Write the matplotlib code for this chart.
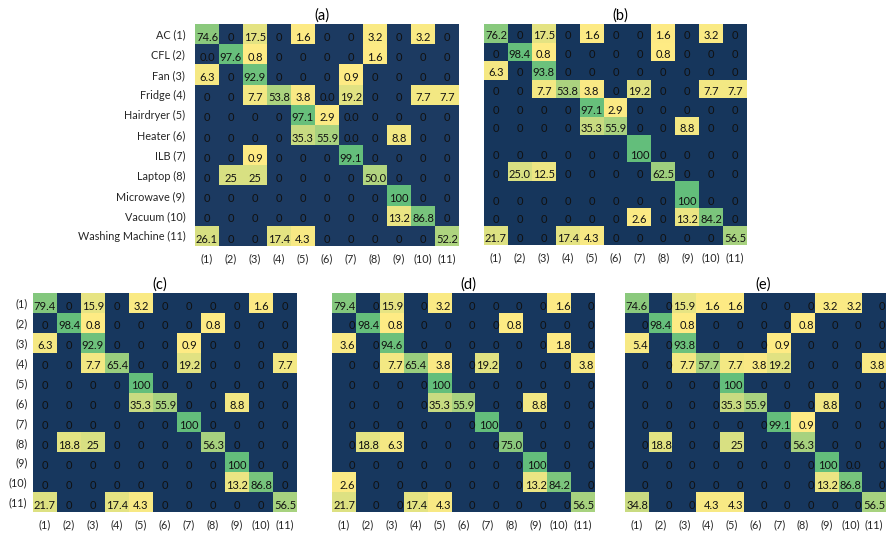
import numpy as np
import matplotlib
matplotlib.use('Agg')
import matplotlib.pyplot as plt
from matplotlib.colors import LinearSegmentedColormap

# 5개의 혼동행렬 (a)~(e), 셀에 적힌 문자열 그대로 저장
APPLIANCES = ['AC (1)', 'CFL (2)', 'Fan (3)', 'Fridge (4)', 'Hairdryer (5)', 'Heater (6)',
              'ILB (7)', 'Laptop (8)', 'Microwave (9)', 'Vacuum (10)', 'Washing Machine (11)']
CLASS_TICKS = ['(1)', '(2)', '(3)', '(4)', '(5)', '(6)', '(7)', '(8)', '(9)', '(10)', '(11)']

A_CELLS = [
    ['74.6', '0', '17.5', '0', '1.6', '0', '0', '3.2', '0', '3.2', '0'],
    ['0.0', '97.6', '0.8', '0', '0', '0', '0', '1.6', '0', '0', '0'],
    ['6.3', '0', '92.9', '0', '0', '0', '0.9', '0', '0', '0', '0'],
    ['0', '0', '7.7', '53.8', '3.8', '0.0', '19.2', '0', '0', '7.7', '7.7'],
    ['0', '0', '0', '0', '97.1', '2.9', '0.0', '0', '0', '0', '0'],
    ['0', '0', '0', '0', '35.3', '55.9', '0.0', '0', '8.8', '0', '0'],
    ['0', '0', '0.9', '0', '0', '0', '99.1', '0', '0', '0', '0'],
    ['0', '25', '25', '0', '0', '0', '0', '50.0', '0', '0', '0'],
    ['0', '0', '0', '0', '0', '0', '0', '0', '100', '0', '0'],
    ['0', '0', '0', '0', '0', '0', '0', '0', '13.2', '86.8', '0'],
    ['26.1', '0', '0', '17.4', '4.3', '0', '0', '0', '0', '0', '52.2'],
]

B_CELLS = [
    ['76.2', '0', '17.5', '0', '1.6', '0', '0', '1.6', '0', '3.2', '0'],
    ['0', '98.4', '0.8', '0', '0', '0', '0', '0.8', '0', '0', '0'],
    ['6.3', '0', '93.8', '0', '0', '0', '0', '0', '0', '0', '0'],
    ['0', '0', '7.7', '53.8', '3.8', '0', '19.2', '0', '0', '7.7', '7.7'],
    ['0', '0', '0', '0', '97.1', '2.9', '0', '0', '0', '0', '0'],
    ['0', '0', '0', '0', '35.3', '55.9', '0', '0', '8.8', '0', '0'],
    ['0', '0', '0', '0', '0', '0', '100', '0', '0', '0', '0'],
    ['0', '25.0', '12.5', '0', '0', '0', '0', '62.5', '0', '0', '0'],
    ['0', '0', '0', '0', '0', '0', '0', '0', '100', '0', '0'],
    ['0', '0', '0', '0', '0', '0', '2.6', '0', '13.2', '84.2', '0'],
    ['21.7', '0', '0', '17.4', '4.3', '0', '0', '0', '0', '0', '56.5'],
]

C_CELLS = [
    ['79.4', '0', '15.9', '0', '3.2', '0', '0', '0', '0', '1.6', '0'],
    ['0', '98.4', '0.8', '0', '0', '0', '0', '0.8', '0', '0', '0'],
    ['6.3', '0', '92.9', '0', '0', '0', '0.9', '0', '0', '0', '0'],
    ['0', '0', '7.7', '65.4', '0', '0', '19.2', '0', '0', '0', '7.7'],
    ['0', '0', '0', '0', '100', '0', '0', '0', '0', '0', '0'],
    ['0', '0', '0', '0', '35.3', '55.9', '0', '0', '8.8', '0', '0'],
    ['0', '0', '0', '0', '0', '0', '100', '0', '0', '0', '0'],
    ['0', '18.8', '25', '0', '0', '0', '0', '56.3', '0', '0', '0'],
    ['0', '0', '0', '0', '0', '0', '0', '0', '100', '0', '0'],
    ['0', '0', '0', '0', '0', '0', '0', '0', '13.2', '86.8', '0'],
    ['21.7', '0', '0', '17.4', '4.3', '0', '0', '0', '0', '0', '56.5'],
]

D_CELLS = [
    ['79.4', '0', '15.9', '0', '3.2', '0', '0', '0', '0', '1.6', '0'],
    ['0', '98.4', '0.8', '0', '0', '0', '0', '0.8', '0', '0', '0'],
    ['3.6', '0', '94.6', '0', '0', '0', '0', '0', '0', '1.8', '0'],
    ['0', '0', '7.7', '65.4', '3.8', '0', '19.2', '0', '0', '0', '3.8'],
    ['0', '0', '0', '0', '100', '0', '0', '0', '0', '0', '0'],
    ['0', '0', '0', '0', '35.3', '55.9', '0', '0', '8.8', '0', '0'],
    ['0', '0', '0', '0', '0', '0', '100', '0', '0', '0', '0'],
    ['0', '18.8', '6.3', '0', '0', '0', '0', '75.0', '0', '0', '0'],
    ['0', '0', '0', '0', '0', '0', '0', '0', '100', '0', '0'],
    ['2.6', '0', '0', '0', '0', '0', '0', '0', '13.2', '84.2', '0'],
    ['21.7', '0', '0', '17.4', '4.3', '0', '0', '0', '0', '0', '56.5'],
]

E_CELLS = [
    ['74.6', '0', '15.9', '1.6', '1.6', '0', '0', '0', '3.2', '3.2', '0'],
    ['0', '98.4', '0.8', '0', '0', '0', '0', '0.8', '0', '0', '0'],
    ['5.4', '0', '93.8', '0', '0', '0', '0.9', '0', '0', '0', '0'],
    ['0', '0', '7.7', '57.7', '7.7', '3.8', '19.2', '0', '0', '0', '3.8'],
    ['0', '0', '0', '0', '100', '0', '0', '0', '0', '0', '0'],
    ['0', '0', '0', '0', '35.3', '55.9', '0', '0', '8.8', '0', '0'],
    ['0', '0', '0', '0', '0', '0', '99.1', '0.9', '0', '0', '0'],
    ['0', '18.8', '0', '0', '25', '0', '0', '56.3', '0', '0', '0'],
    ['0', '0', '0', '0', '0', '0', '0', '0', '100', '0.0', '0'],
    ['0', '0', '0', '0', '0', '0', '0', '0', '13.2', '86.8', '0'],
    ['34.8', '0', '0', '4.3', '4.3', '0', '0', '0', '0', '0', '56.5'],
]

W, H = 886, 533
plt.rcParams['font.family'] = ['Lato', 'DejaVu Sans']

# 엑셀 스타일 색: 0은 남색, 나머지는 노랑 -> 초록
green_yellow = LinearSegmentedColormap.from_list('gy', ['#FFEB84', '#63BE7B'])


def add_panel(fig, box, cells, navy, row_heights=None, align='center',
              row_labels=None, ylabel_pad=4, title='', title_x=0.5):
    l, t, r, b = box
    ax = fig.add_axes([l / W, (H - b) / H, (r - l) / W, (b - t) / H])
    vals = np.array([[float(s) for s in row] for row in cells])
    if row_heights is None:
        row_heights = [1.0] * len(cells)
    yedges = np.concatenate([[0], np.cumsum(row_heights)])
    xedges = np.arange(len(cells[0]) + 1)

    cmap = green_yellow.copy()
    cmap.set_under(navy)
    ax.pcolormesh(xedges, yedges, vals, cmap=cmap, vmin=1e-6, vmax=100)
    ax.set_xlim(0, len(cells[0]))
    ax.set_ylim(yedges[-1], 0)

    for i, row in enumerate(cells):
        ybot = yedges[i + 1] - 0.07
        for j, s in enumerate(row):
            if align == 'right':
                ax.text(j + 0.97, ybot, s, ha='right', va='bottom', fontsize=8, color='#111111')
            else:
                ax.text(j + 0.5, ybot, s, ha='center', va='bottom', fontsize=8, color='#111111')

    ax.set_xticks(xedges[:-1] + 0.5)
    ax.set_xticklabels(CLASS_TICKS, fontsize=7.8, color='#262626')
    if row_labels is not None:
        ax.set_yticks((yedges[:-1] + yedges[1:]) / 2)
        ax.set_yticklabels(row_labels, fontsize=7.8, color='#262626')
    else:
        ax.set_yticks([])
    ax.tick_params(length=0, axis='x', pad=5)
    ax.tick_params(length=0, axis='y', pad=ylabel_pad)
    for sp in ax.spines.values():
        sp.set_visible(False)
    ax.set_title(title, fontsize=10.5, x=title_x, pad=3)
    return ax


fig = plt.figure(figsize=(W / 100, H / 100), dpi=100)

add_panel(fig, (195, 24, 459, 246), A_CELLS, '#1C3A61',
          row_labels=APPLIANCES, ylabel_pad=7, title='(a)', title_x=0.48)
add_panel(fig, (484, 24, 747, 245), B_CELLS, '#16365C',
          row_heights=[1, 1, 1, 1, 1, 1, 1.45, 1, 1.45, 1, 1], title='(b)', title_x=0.517)
add_panel(fig, (33, 293, 297, 512), C_CELLS, '#17375E',
          row_labels=CLASS_TICKS, ylabel_pad=4, title='(c)', title_x=0.48)
add_panel(fig, (332, 293, 595, 512), D_CELLS, '#17375E',
          align='right', title='(d)', title_x=0.52)
add_panel(fig, (625, 293, 886, 512), E_CELLS, '#17375E',
          align='right', title='(e)', title_x=0.53)

fig.savefig('out.png', dpi=100)
